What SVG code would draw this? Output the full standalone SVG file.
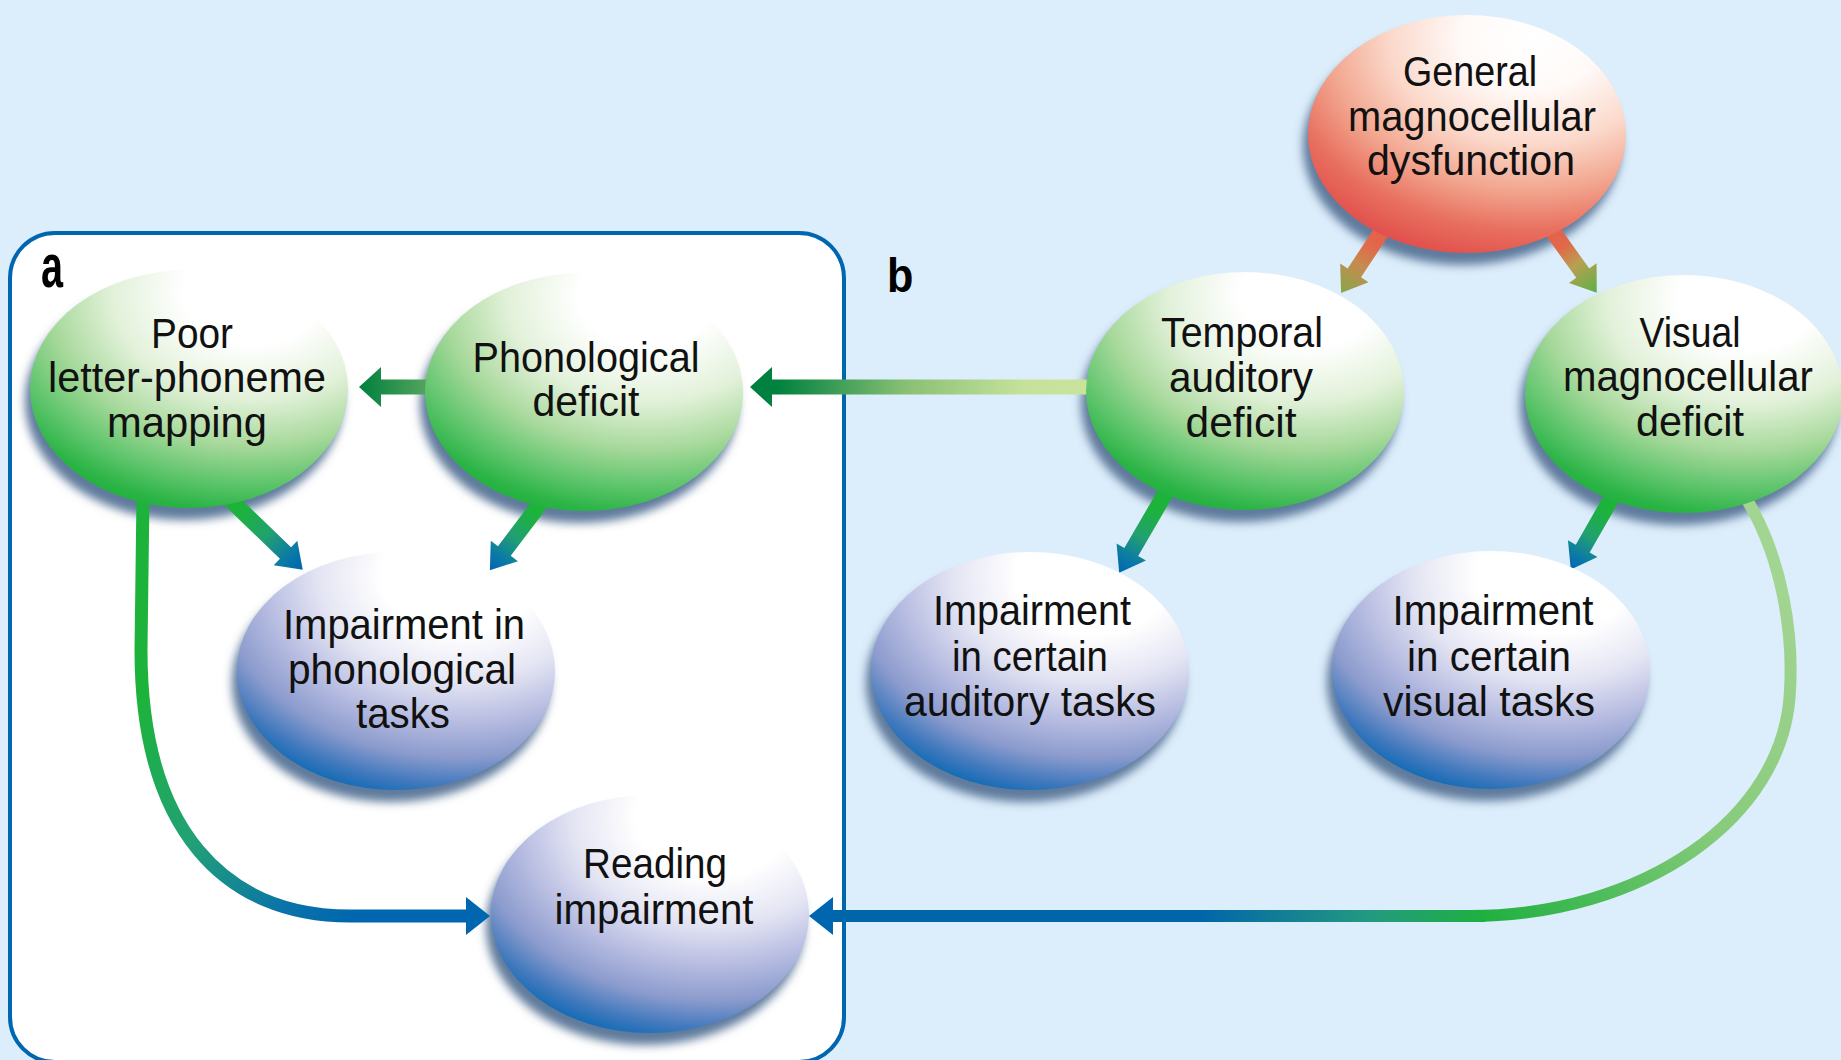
<svg xmlns="http://www.w3.org/2000/svg" width="1841" height="1060" viewBox="0 0 1841 1060">
<style>
.lbl{font-family:"Liberation Sans",Arial,sans-serif;font-weight:bold;fill:#000}
.t{font-family:"Liberation Sans",Arial,sans-serif;font-size:42px;fill:#111;text-anchor:middle}
.sh{fill:#5f7a9c;filter:url(#blur)}
</style>
<defs>
<filter id="blur" x="-20%" y="-20%" width="140%" height="140%"><feGaussianBlur stdDeviation="5"/></filter>
<radialGradient id="gGreen" cx="0.7" cy="0.1" r="0.98" fx="0.7" fy="0.1">
<stop offset="0" stop-color="#ffffff"/><stop offset="0.22" stop-color="#ffffff"/><stop offset="0.45" stop-color="#e2f1d9"/><stop offset="0.65" stop-color="#a8d99c"/><stop offset="0.82" stop-color="#5cc46a"/><stop offset="0.93" stop-color="#2bb446"/><stop offset="1" stop-color="#1daf3a"/>
</radialGradient>
<radialGradient id="gBlue" cx="0.7" cy="0.1" r="0.98" fx="0.7" fy="0.1">
<stop offset="0" stop-color="#ffffff"/><stop offset="0.25" stop-color="#ffffff"/><stop offset="0.45" stop-color="#e4e5f3"/><stop offset="0.62" stop-color="#b9bee2"/><stop offset="0.78" stop-color="#8b9bcd"/><stop offset="0.9" stop-color="#3f78bd"/><stop offset="1" stop-color="#0066b2"/>
</radialGradient>
<radialGradient id="gRed" cx="0.7" cy="0.1" r="0.98" fx="0.7" fy="0.1">
<stop offset="0" stop-color="#ffffff"/><stop offset="0.22" stop-color="#fffaf8"/><stop offset="0.45" stop-color="#fbd9cb"/><stop offset="0.65" stop-color="#f2a68f"/><stop offset="0.82" stop-color="#e8705f"/><stop offset="1" stop-color="#e04848"/>
</radialGradient>
<linearGradient id="aC1" x1="0" y1="0" x2="1" y2="0"><stop offset="0" stop-color="#5aa860"/><stop offset="1" stop-color="#007f3f"/></linearGradient>
<linearGradient id="aC2" x1="0" y1="0" x2="1" y2="0"><stop offset="0" stop-color="#c9e39b"/><stop offset="0.2" stop-color="#c6e29a"/><stop offset="0.55" stop-color="#88bf74"/><stop offset="0.8" stop-color="#2a9450"/><stop offset="0.92" stop-color="#00823f"/><stop offset="1" stop-color="#007f3f"/></linearGradient>
<linearGradient id="aRL" x1="0" y1="0" x2="1" y2="0"><stop offset="0" stop-color="#e85a48"/><stop offset="0.35" stop-color="#e06a4a"/><stop offset="0.6" stop-color="#c88a50"/><stop offset="1" stop-color="#86a84a"/></linearGradient>
<linearGradient id="aRR" x1="0" y1="0" x2="1" y2="0"><stop offset="0" stop-color="#e85a48"/><stop offset="0.35" stop-color="#e06a4a"/><stop offset="0.6" stop-color="#b8a050"/><stop offset="1" stop-color="#5cb048"/></linearGradient>
<linearGradient id="aGB" x1="0" y1="0" x2="1" y2="0"><stop offset="0" stop-color="#1db33b"/><stop offset="0.3" stop-color="#1db33b"/><stop offset="0.6" stop-color="#21a070"/><stop offset="0.85" stop-color="#0a78a8"/><stop offset="1" stop-color="#0066b0"/></linearGradient>
<linearGradient id="c9" gradientUnits="userSpaceOnUse" x1="141" y1="700" x2="360" y2="916"><stop offset="0" stop-color="#1db33b"/><stop offset="0.45" stop-color="#21a077"/><stop offset="0.8" stop-color="#0a74a8"/><stop offset="1" stop-color="#0066b0"/></linearGradient>
<linearGradient id="c10a" gradientUnits="userSpaceOnUse" x1="1790" y1="600" x2="1480" y2="916"><stop offset="0" stop-color="#a2d492"/><stop offset="0.5" stop-color="#86cb7a"/><stop offset="0.82" stop-color="#45ba55"/><stop offset="1" stop-color="#1fb040"/></linearGradient>
<linearGradient id="c10b" gradientUnits="userSpaceOnUse" x1="1485" y1="0" x2="1200" y2="0"><stop offset="0" stop-color="#1fb040"/><stop offset="0.4" stop-color="#239a80"/><stop offset="1" stop-color="#0066aa"/></linearGradient>
</defs>
<rect width="1841" height="1060" fill="#dcedfb"/>
<rect x="10" y="233" width="834" height="829" rx="45" ry="45" fill="#ffffff" stroke="#0066b0" stroke-width="4"/>
<text class="lbl" font-size="44" transform="translate(41,287) scale(0.9,1.38)">a</text>
<text class="lbl" font-size="48" transform="translate(887,292) scale(0.9,1)">b</text>
<g id="shadows">
<ellipse class="sh" cx="184" cy="401" rx="159" ry="119"/>
<ellipse class="sh" cx="579" cy="404" rx="159" ry="119"/>
<ellipse class="sh" cx="1240" cy="403" rx="159" ry="119"/>
<ellipse class="sh" cx="1679" cy="406" rx="159" ry="119"/>
<ellipse class="sh" cx="1462" cy="146" rx="159" ry="119"/>
<ellipse class="sh" cx="391" cy="683" rx="159" ry="119"/>
<ellipse class="sh" cx="1025" cy="683" rx="159" ry="119"/>
<ellipse class="sh" cx="1486" cy="682" rx="159" ry="119"/>
<ellipse class="sh" cx="645" cy="926" rx="159" ry="119"/>
</g>
<g id="connectors">
<path fill="url(#aC1)" transform="translate(432,387) rotate(180)" d="M0,-7.5 H51 V-20 L73,0 L51,20 V7.5 H0 Z"/>
<path fill="url(#aC2)" transform="translate(1092,387) rotate(180)" d="M0,-7.5 H320 V-20 L342,0 L320,20 V7.5 H0 Z"/>
<path fill="url(#aRL)" transform="translate(1388,222) rotate(123.5)" d="M0,-8 H61 V-17 L85,0 L61,17 V8 H0 Z"/>
<path fill="url(#aRR)" transform="translate(1546,222) rotate(54.3)" d="M0,-8 H63 V-17 L87,0 L63,17 V8 H0 Z"/>
<path fill="url(#aGB)" transform="translate(215,485) rotate(44)" d="M0,-8 H98 V-17 L122,0 L98,17 V8 H0 Z"/>
<path fill="url(#aGB)" transform="translate(552,488) rotate(127.1)" d="M0,-8 H79 V-17 L103,0 L79,17 V8 H0 Z"/>
<path fill="url(#aGB)" transform="translate(1172,482) rotate(120.2)" d="M0,-8 H81 V-17 L105,0 L81,17 V8 H0 Z"/>
<path fill="url(#aGB)" transform="translate(1618,487) rotate(119.8)" d="M0,-8 H71 V-17 L95,0 L71,17 V8 H0 Z"/>
<path fill="none" stroke="url(#c9)" stroke-width="13" d="M143,495 L141,650 C141,830 225,916 350,916 L472,916"/>
<polygon fill="#0066b0" points="490,916 466,897 466,935"/>
<path fill="none" stroke="url(#c10a)" stroke-width="12" d="M1744,495 C1785,560 1793,640 1790,690 C1785,820 1640,916 1470,916"/>
<path fill="none" stroke="url(#c10b)" stroke-width="12" d="M1485,916 L828,916"/>
<polygon fill="#0066b0" points="809,916 833,897 833,935"/>
</g>
<g id="n1"><ellipse cx="189" cy="389" rx="159" ry="119" fill="url(#gGreen)"/>
<text class="t" x="192" y="348" textLength="82" lengthAdjust="spacingAndGlyphs">Poor</text>
<text class="t" x="187" y="392" textLength="278" lengthAdjust="spacingAndGlyphs">letter-phoneme</text>
<text class="t" x="187" y="437" textLength="160" lengthAdjust="spacingAndGlyphs">mapping</text></g>
<g id="n2"><ellipse cx="584" cy="392" rx="159" ry="119" fill="url(#gGreen)"/>
<text class="t" x="586" y="372" textLength="227" lengthAdjust="spacingAndGlyphs">Phonological</text>
<text class="t" x="586" y="416" textLength="107" lengthAdjust="spacingAndGlyphs">deficit</text></g>
<g id="n3"><ellipse cx="1245" cy="391" rx="159" ry="119" fill="url(#gGreen)"/>
<text class="t" x="1242" y="347" textLength="162" lengthAdjust="spacingAndGlyphs">Temporal</text>
<text class="t" x="1241" y="392" textLength="144" lengthAdjust="spacingAndGlyphs">auditory</text>
<text class="t" x="1241" y="437" textLength="111" lengthAdjust="spacingAndGlyphs">deficit</text></g>
<g id="n4"><ellipse cx="1684" cy="394" rx="159" ry="119" fill="url(#gGreen)"/>
<text class="t" x="1690" y="347" textLength="101" lengthAdjust="spacingAndGlyphs">Visual</text>
<text class="t" x="1688" y="391" textLength="250" lengthAdjust="spacingAndGlyphs">magnocellular</text>
<text class="t" x="1690" y="436" textLength="108" lengthAdjust="spacingAndGlyphs">deficit</text></g>
<g id="n5"><ellipse cx="1467" cy="134" rx="159" ry="119" fill="url(#gRed)"/>
<text class="t" x="1470" y="86" textLength="134" lengthAdjust="spacingAndGlyphs">General</text>
<text class="t" x="1472" y="131" textLength="248" lengthAdjust="spacingAndGlyphs">magnocellular</text>
<text class="t" x="1471" y="175" textLength="208" lengthAdjust="spacingAndGlyphs">dysfunction</text></g>
<g id="n6"><ellipse cx="396" cy="671" rx="159" ry="119" fill="url(#gBlue)"/>
<text class="t" x="404" y="639" textLength="242" lengthAdjust="spacingAndGlyphs">Impairment in</text>
<text class="t" x="402" y="684" textLength="228" lengthAdjust="spacingAndGlyphs">phonological</text>
<text class="t" x="403" y="728" textLength="94" lengthAdjust="spacingAndGlyphs">tasks</text></g>
<g id="n7"><ellipse cx="1030" cy="671" rx="159" ry="119" fill="url(#gBlue)"/>
<text class="t" x="1032" y="625" textLength="198" lengthAdjust="spacingAndGlyphs">Impairment</text>
<text class="t" x="1030" y="671" textLength="156" lengthAdjust="spacingAndGlyphs">in certain</text>
<text class="t" x="1030" y="716" textLength="252" lengthAdjust="spacingAndGlyphs">auditory tasks</text></g>
<g id="n8"><ellipse cx="1491" cy="670" rx="159" ry="119" fill="url(#gBlue)"/>
<text class="t" x="1493" y="625" textLength="201" lengthAdjust="spacingAndGlyphs">Impairment</text>
<text class="t" x="1489" y="671" textLength="164" lengthAdjust="spacingAndGlyphs">in certain</text>
<text class="t" x="1489" y="716" textLength="212" lengthAdjust="spacingAndGlyphs">visual tasks</text></g>
<g id="n9"><ellipse cx="650" cy="914" rx="159" ry="119" fill="url(#gBlue)"/>
<text class="t" x="655" y="878" textLength="144" lengthAdjust="spacingAndGlyphs">Reading</text>
<text class="t" x="654" y="924" textLength="199" lengthAdjust="spacingAndGlyphs">impairment</text></g>
</svg>
